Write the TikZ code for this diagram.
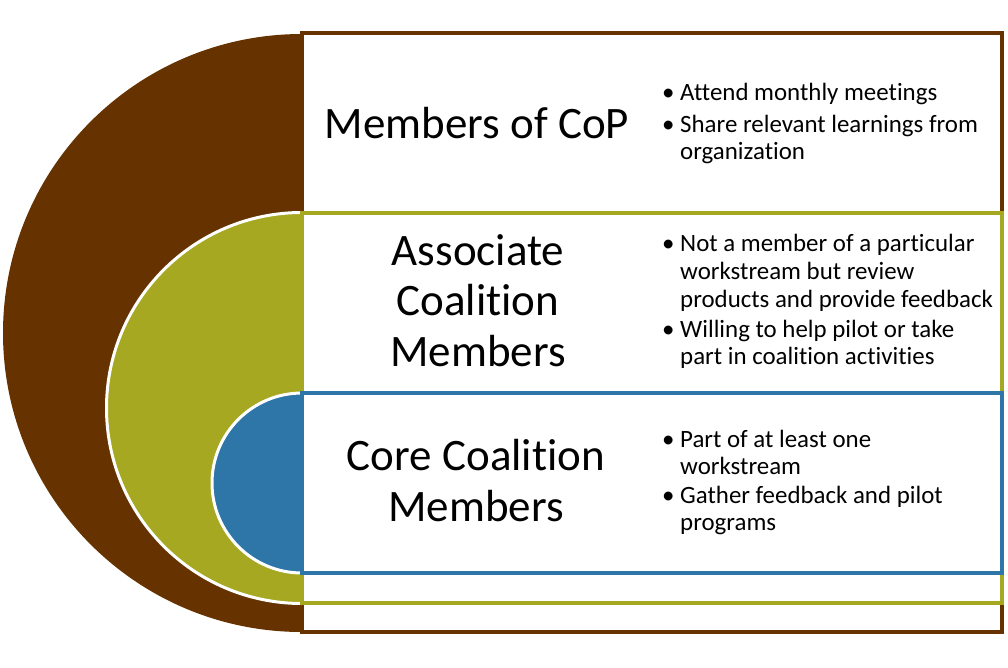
\documentclass[tikz,border=0pt]{standalone}
\usepackage{fontspec}
\setmainfont{Carlito}[Ligatures={NoCommon,NoContextual},RawFeature={-liga;-clig}]
\definecolor{cbrown}{RGB}{102,51,0}
\definecolor{colive}{RGB}{165,168,32}
\definecolor{cblue}{RGB}{46,117,168}
\tikzset{
  ttl/.style={font=\fontsize{45}{51}\selectfont, inner sep=0pt, anchor=base},
  itm/.style={font=\fontsize{24.9}{28}\selectfont, inner sep=0pt, anchor=base west},
  frame/.style={fill=white, line width=4pt},
  half/.style={line width=3pt, draw=white}
}
\begin{document}
\begin{tikzpicture}[x=1pt,y=-1pt]
\useasboundingbox (0,0) rectangle (1008,667);
% brown level
\fill[cbrown] (302,34) arc[start angle=-90,end angle=-270,radius=299] -- cycle;
\draw[frame, draw=cbrown] (302,33) rectangle (1002,632);
% olive level
\path[half, fill=colive] (302,212.5) arc[start angle=-90,end angle=-270,radius=195.5];
\draw[frame, draw=colive] (302,212.5) rectangle (1002,603);
% blue level
\path[half, fill=cblue] (302,393) arc[start angle=-90,end angle=-270,radius=90];
\draw[frame, draw=cblue] (302,393) rectangle (1002,573);

% titles
\node[ttl] (t1) at (477,138) {Members of CoP};
\node[ttl] (t2a) at (478,265) {Associate};
\node[ttl] (t2b) at (478,315) {Coalition};
\node[ttl] (t2c) at (478,366) {Members};
\node[ttl] (t3a) at (476,470) {Core Coalition};
\node[ttl] (t3b) at (476,521) {Members};

% bullets level 1
\node[itm] (b1) at (662,100) {•};
\node[itm] (l1a) at (680,100) {Attend monthly meetings};
\node[itm] (b2) at (662,132) {•};
\node[itm] (l1b) at (680,132) {Share relevant learnings from};
\node[itm] (l1c) at (680,159) {organization};
% bullets level 2
\node[itm] (b3) at (662,251) {•};
\node[itm] (l2a) at (680,251) {Not a member of a particular};
\node[itm] (l2b) at (680,279) {workstream but review};
\node[itm] (l2c) at (680,307) {products and provide feedback};
\node[itm] (b4) at (662,337) {•};
\node[itm] (l2d) at (680,337) {Willing to help pilot or take};
\node[itm] (l2e) at (680,364) {part in coalition activities};
% bullets level 3
\node[itm] (b5) at (662,447) {•};
\node[itm] (l3a) at (680,447) {Part of at least one};
\node[itm] (l3b) at (680,474) {workstream};
\node[itm] (b6) at (662,503) {•};
\node[itm] (l3c) at (680,503) {Gather feedback and pilot};
\node[itm] (l3d) at (680,530) {programs};
\end{tikzpicture}
\end{document}
